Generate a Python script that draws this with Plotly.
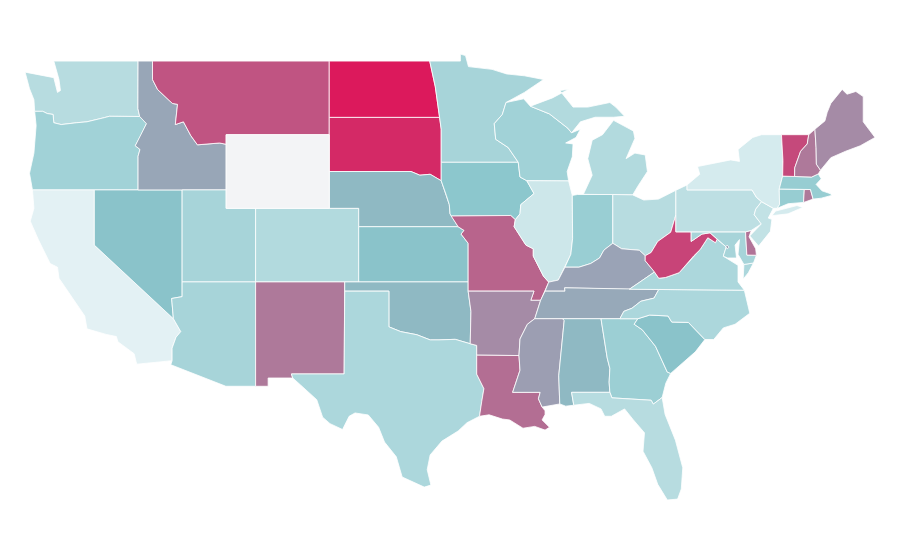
import plotly.graph_objects as go
from plotly.colors import sample_colorscale

states = ["WA","OR","CA","NV","ID","MT","UT","AZ","CO","NM","ND","SD","NE","KS","OK","TX",
          "MN","IA","MO","AR","LA","WI","IL","MI","IN","OH","KY","TN","MS","AL","GA","FL",
          "SC","NC","VA","WV","MD","DE","PA","NJ","NY","CT","RI","MA","VT","NH","ME","DC"]
values = [18,26,2,36,47,78,24,24,20,64,100,94,40,36,40,22,
          24,34,72,57,68,26,10,20,29,18,48,46,50,40,28,18,
          36,22,22,84,24,66,16,14,7,30,64,30,82,64,57,50]
no_data_states = ["WY"]
colorscale = [[0,"#e8f4f6"],[0.35,"#89c6cc"],[1,"#dc195c"]]
no_data_color = "#f3f4f6"

# Simplified state boundaries (lon, lat), one list per ring.
outlines = {
"WA":[[(-124.7,48.4),(-123.2,48.15),(-122.75,48.1),(-122.5,47.3),(-122.3,47.4),(-122.4,48.0),(-122.75,49),(-117.03,49),(-117.04,46.42),(-116.92,45.99),(-118.98,46),(-119.3,45.93),(-120.5,45.7),(-121.2,45.65),(-122.25,45.55),(-122.75,45.65),(-122.8,46.1),(-123.2,46.15),(-123.5,46.27),(-124.05,46.27),(-124.1,46.9),(-124.4,47.5)]],
"OR":[[(-124.05,46.27),(-123.5,46.27),(-123.2,46.15),(-122.8,46.1),(-122.75,45.65),(-122.25,45.55),(-121.2,45.65),(-120.5,45.7),(-119.3,45.93),(-118.98,46),(-116.92,45.99),(-116.46,45.6),(-116.85,44.95),(-117.22,44.4),(-116.9,44.2),(-117.03,43.83),(-117.03,42),(-124.2,42),(-124.4,42.9),(-124.1,44),(-123.95,45.5)]],
"CA":[[(-124.2,42),(-120,42),(-120,39),(-114.63,35),(-114.13,34.3),(-114.45,34),(-114.72,33.4),(-114.72,32.72),(-117.12,32.53),(-117.3,33.1),(-118.4,33.75),(-118.5,34.03),(-119.2,34.15),(-120.5,34.45),(-120.65,35.15),(-121.9,36.6),(-122.4,37.2),(-122.5,37.8),(-123,38),(-123.8,39.3),(-124.35,40.3),(-124.1,41)]],
"NV":[[(-120,42),(-114.04,42),(-114.04,36.2),(-114.75,36.1),(-114.63,35),(-120,39)]],
"ID":[[(-117.03,49),(-116.05,49),(-116.05,48),(-115.7,47.45),(-114.7,46.7),(-114.35,46.65),(-114.5,45.55),(-113.95,45.7),(-113.45,44.95),(-113,44.45),(-111.5,44.55),(-111.05,44.48),(-111.05,42),(-117.03,42),(-117.03,43.83),(-116.9,44.2),(-117.22,44.4),(-116.85,44.95),(-116.46,45.6),(-116.92,45.99),(-117.04,46.42)]],
"MT":[[(-116.05,49),(-104.05,49),(-104.05,45),(-111.05,45),(-111.05,44.48),(-111.5,44.55),(-113,44.45),(-113.45,44.95),(-113.95,45.7),(-114.5,45.55),(-114.35,46.65),(-114.7,46.7),(-115.7,47.45),(-116.05,48)]],
"WY":[[(-111.05,45),(-104.05,45),(-104.05,41),(-111.05,41)]],
"UT":[[(-114.04,42),(-111.05,42),(-111.05,41),(-109.05,41),(-109.05,37),(-114.04,37)]],
"CO":[[(-109.05,41),(-102.05,41),(-102.05,37),(-109.05,37)]],
"AZ":[[(-114.04,37),(-109.05,37),(-109.05,31.33),(-111.07,31.33),(-114.81,32.5),(-114.72,32.72),(-114.72,33.4),(-114.45,34),(-114.13,34.3),(-114.63,35),(-114.75,36.1),(-114.04,36.2)]],
"NM":[[(-109.05,37),(-103,37),(-103.04,32),(-106.62,32),(-106.53,31.78),(-108.2,31.78),(-108.2,31.33),(-109.05,31.33)]],
"TX":[[(-106.62,32),(-103.04,32),(-103,36.5),(-100,36.5),(-100,34.56),(-99.2,34.3),(-98.1,34.13),(-97.2,33.85),(-96.6,33.85),(-95.5,33.88),(-94.48,33.64),(-94.04,33.55),(-94.04,33.02),(-94.04,31.99),(-93.55,31.2),(-93.7,30.5),(-93.85,29.7),(-94.7,29.35),(-95.3,28.9),(-96.4,28.35),(-97.2,27.6),(-97.4,26.8),(-97.15,25.96),(-97.6,25.85),(-99.1,26.4),(-99.5,27.5),(-100.3,28.3),(-100.7,29.1),(-101.4,29.77),(-102.3,29.88),(-102.7,29.7),(-103.15,28.98),(-104,29.3),(-104.5,29.65),(-104.9,30.6),(-106,31.4),(-106.53,31.78)]],
"OK":[[(-103,37),(-94.62,37),(-94.62,36.5),(-94.43,35.4),(-94.48,33.64),(-95.5,33.88),(-96.6,33.85),(-97.2,33.85),(-98.1,34.13),(-99.2,34.3),(-100,34.56),(-100,36.5),(-103,36.5)]],
"KS":[[(-102.05,40),(-95.3,40),(-94.9,39.8),(-95.1,39.6),(-94.62,39.1),(-94.62,37),(-102.05,37)]],
"NE":[[(-104.05,43),(-98.5,43),(-97.9,42.8),(-97.2,42.85),(-96.45,42.5),(-96.1,41.7),(-95.9,41.2),(-95.85,40.7),(-95.3,40),(-102.05,40),(-102.05,41),(-104.05,41)]],
"SD":[[(-104.05,45.94),(-96.56,45.94),(-96.45,45.3),(-96.45,43.5),(-96.45,42.5),(-97.2,42.85),(-97.9,42.8),(-98.5,43),(-104.05,43)]],
"ND":[[(-104.05,49),(-97.23,49),(-96.85,47.6),(-96.56,45.94),(-104.05,45.94)]],
"MN":[[(-97.23,49),(-95.15,49),(-95.15,49.38),(-94.8,49.3),(-94.6,48.7),(-93,48.55),(-92,48.3),(-90.8,48.2),(-89.5,48),(-90.8,47.3),(-92.05,46.75),(-92.3,46.1),(-92.85,45.6),(-92.75,44.75),(-91.9,44.3),(-91.22,43.5),(-96.45,43.5),(-96.45,45.3),(-96.56,45.94),(-96.85,47.6)]],
"IA":[[(-96.45,43.5),(-91.22,43.5),(-91.1,42.7),(-90.64,42.5),(-90.15,41.8),(-91.05,41.2),(-91.1,40.7),(-91.42,40.38),(-91.73,40.61),(-95.77,40.58),(-95.85,40.7),(-95.9,41.2),(-96.1,41.7),(-96.45,42.5)]],
"MO":[[(-95.77,40.58),(-91.73,40.61),(-91.42,40.38),(-91.5,40),(-90.7,39),(-90.2,38.8),(-90.2,38.4),(-89.5,37.3),(-89.15,36.99),(-89.4,36.5),(-89.7,36),(-90.37,36),(-90.15,36.5),(-94.62,36.5),(-94.62,37),(-94.62,39.1),(-95.1,39.6),(-94.9,39.8),(-95.3,40)]],
"AR":[[(-94.62,36.5),(-90.15,36.5),(-90.37,36),(-89.7,36),(-90.1,35),(-90.6,34.7),(-91.1,33.9),(-91.17,33),(-94.04,33.02),(-94.04,33.55),(-94.48,33.64),(-94.43,35.4)]],
"LA":[[(-94.04,33.02),(-91.17,33),(-91.1,32.2),(-91.6,31),(-89.73,31),(-89.85,30.65),(-89.6,30.2),(-89.4,30),(-89.4,29.8),(-89.6,29.5),(-89.1,29.1),(-89.4,28.95),(-90.1,29.15),(-90.9,29.05),(-91.8,29.5),(-92.3,29.55),(-93.2,29.78),(-93.85,29.7),(-93.7,30.5),(-93.55,31.2),(-94.04,31.99)]],
"MS":[[(-90.1,35),(-88.2,35),(-88.1,34.9),(-88.47,31.9),(-88.4,30.37),(-89.6,30.2),(-89.85,30.65),(-89.73,31),(-91.6,31),(-91.1,32.2),(-91.17,33),(-91.1,33.9),(-90.6,34.7)]],
"AL":[[(-88.2,35),(-85.6,35),(-85.18,32.87),(-85,32.3),(-85.05,31.55),(-85,31),(-87.6,31),(-87.45,30.3),(-88,30.25),(-88.4,30.37),(-88.47,31.9),(-88.1,34.9)]],
"GA":[[(-85.6,35),(-83.1,35),(-83.35,34.7),(-82.8,34.4),(-81.9,33.5),(-81.4,32.6),(-81.1,32.1),(-80.87,32.03),(-81.2,31.5),(-81.45,30.72),(-82.05,30.36),(-82.2,30.57),(-84.86,30.7),(-85,31),(-85.05,31.55),(-85,32.3),(-85.18,32.87)]],
"FL":[[(-87.6,31),(-85,31),(-84.86,30.7),(-82.2,30.57),(-82.05,30.36),(-81.45,30.72),(-81.25,29.8),(-80.55,28.4),(-80.05,26.9),(-80.15,25.75),(-80.4,25.2),(-81.1,25.15),(-81.75,26),(-82.15,26.9),(-82.75,27.8),(-82.65,28.8),(-83.4,29.5),(-84,30.1),(-84.9,29.7),(-85.35,29.7),(-85.6,30.1),(-86.4,30.4),(-87.45,30.3)]],
"SC":[[(-83.1,35),(-82.3,35.2),(-81.05,35.15),(-80.8,34.82),(-79.67,34.8),(-78.55,33.87),(-79.2,33.2),(-79.9,32.7),(-80.87,32.03),(-81.1,32.1),(-81.4,32.6),(-81.9,33.5),(-82.8,34.4),(-83.35,34.7)]],
"NC":[[(-84.32,35),(-84.05,35.4),(-83.5,35.57),(-82.9,35.95),(-82,36.12),(-81.68,36.59),(-75.87,36.55),(-75.5,35.3),(-76.5,34.7),(-77.3,34.5),(-77.95,33.87),(-78.55,33.87),(-79.67,34.8),(-80.8,34.82),(-81.05,35.15),(-82.3,35.2),(-83.1,35)]],
"TN":[[(-90.1,35),(-89.7,36),(-89.4,36.5),(-88.05,36.5),(-88.07,36.68),(-83.68,36.6),(-81.68,36.59),(-82,36.12),(-82.9,35.95),(-83.5,35.57),(-84.05,35.4),(-84.32,35),(-85.6,35),(-88.2,35)]],
"KY":[[(-89.4,36.5),(-89.15,36.99),(-88.5,37.1),(-88.05,37.8),(-87.1,37.8),(-86.3,38),(-85.7,38.3),(-85.4,38.73),(-84.8,39.1),(-84.2,38.8),(-83,38.72),(-82.6,38.42),(-82.6,38.15),(-81.97,37.54),(-83.68,36.6),(-88.07,36.68),(-88.05,36.5)]],
"WV":[[(-82.6,38.42),(-82.2,38.6),(-81.75,39.2),(-80.87,39.7),(-80.52,40.64),(-80.52,39.72),(-79.48,39.72),(-79.48,39.2),(-78.75,39.6),(-78.2,39.67),(-77.72,39.32),(-77.83,39.13),(-78.35,39.4),(-78.87,38.76),(-79.3,38.42),(-80.3,37.5),(-81.23,37.24),(-81.68,37.2),(-81.97,37.54),(-82.6,38.15)]],
"VA":[[(-83.68,36.6),(-81.97,37.54),(-81.68,37.2),(-81.23,37.24),(-80.3,37.5),(-79.3,38.42),(-78.87,38.76),(-78.35,39.4),(-77.83,39.13),(-77.72,39.32),(-77.1,38.9),(-77.3,38.4),(-76.3,37.9),(-76.3,37),(-75.87,36.55),(-81.68,36.59)],[(-75.25,38.03),(-75.9,37.95),(-75.95,37.15),(-75.6,37.5)]],
"MD":[[(-79.48,39.72),(-75.79,39.72),(-75.7,38.46),(-75.05,38.45),(-75.25,38.03),(-75.9,37.95),(-76.3,38.5),(-76.2,39.3),(-76.5,39),(-76.4,38.3),(-77,38.3),(-77.3,38.4),(-77.1,38.9),(-77.72,39.32),(-78.2,39.67),(-78.75,39.6),(-79.48,39.2)]],
"DE":[[(-75.79,39.72),(-75.4,39.8),(-75.55,39.45),(-75.1,38.8),(-75.05,38.45),(-75.7,38.46)]],
"DC":[[(-77.12,38.93),(-77.04,39),(-76.91,38.89),(-77.04,38.79)]],
"PA":[[(-80.52,41.98),(-79.76,42.27),(-79.76,42),(-75.35,42),(-75.05,41.6),(-74.7,41.36),(-75.1,40.95),(-75.2,40.65),(-74.72,40.15),(-75.4,39.8),(-75.79,39.72),(-80.52,39.72),(-80.52,40.64)]],
"NJ":[[(-74.7,41.36),(-73.9,41),(-74.25,40.47),(-74,40.4),(-74.1,39.75),(-74.9,38.95),(-75.5,39.5),(-74.72,40.15),(-75.2,40.65),(-75.1,40.95)]],
"NY":[[(-79.76,42.27),(-78.9,42.85),(-79.05,43.27),(-76.8,43.63),(-76.2,43.55),(-76.3,44.2),(-75.3,44.85),(-74.7,45),(-73.35,45),(-73.25,43.6),(-73.27,42.75),(-73.5,42.05),(-73.48,41.2),(-73.65,41),(-73.9,41),(-74.7,41.36),(-75.05,41.6),(-75.35,42),(-79.76,42)],[(-74,40.6),(-73.75,40.85),(-72.3,41.15),(-71.9,41.05),(-72.9,40.7)]],
"CT":[[(-73.5,42.05),(-71.8,42.02),(-71.85,41.32),(-72.9,41.25),(-73.65,41),(-73.48,41.2)]],
"RI":[[(-71.8,42.02),(-71.38,42.02),(-71.2,41.5),(-71.85,41.32)]],
"MA":[[(-73.27,42.75),(-71.3,42.7),(-70.85,42.87),(-70.65,42.6),(-71,42.3),(-70.6,41.95),(-70.05,41.8),(-70.2,42.07),(-69.95,41.7),(-70.65,41.55),(-71.2,41.5),(-71.38,42.02),(-71.8,42.02),(-73.5,42.05)]],
"VT":[[(-73.35,45),(-71.5,45),(-71.6,44.5),(-72.05,44.1),(-72.45,43.2),(-72.46,42.73),(-73.27,42.75),(-73.25,43.6)]],
"NH":[[(-71.5,45),(-71.08,45.3),(-71,44.3),(-70.98,43.4),(-70.7,43.07),(-70.85,42.87),(-71.3,42.7),(-72.46,42.73),(-72.45,43.2),(-72.05,44.1),(-71.6,44.5)]],
"ME":[[(-71.08,45.3),(-70.4,45.75),(-70.25,46.2),(-70,46.7),(-69.23,47.46),(-68.9,47.2),(-68.3,47.35),(-67.8,47.07),(-67.8,45.7),(-67.45,45.3),(-67,44.85),(-68,44.4),(-69,44.1),(-70,43.75),(-70.7,43.07),(-70.98,43.4),(-71,44.3)]],
"WI":[[(-92.05,46.75),(-90.85,46.95),(-90.4,46.55),(-89.1,46.13),(-87.85,45.35),(-87.6,45.1),(-87,45.3),(-87.3,44.85),(-88,44.55),(-87.5,44.5),(-87.55,43.8),(-87.9,43),(-87.8,42.49),(-90.64,42.5),(-91.1,42.7),(-91.22,43.5),(-91.9,44.3),(-92.75,44.75),(-92.85,45.6),(-92.3,46.1)]],
"IL":[[(-90.64,42.5),(-87.8,42.49),(-87.55,41.7),(-87.53,39.35),(-87.65,38.5),(-88.05,37.8),(-88.5,37.1),(-89.15,36.99),(-89.5,37.3),(-90.2,38.4),(-90.2,38.8),(-90.7,39),(-91.5,40),(-91.42,40.38),(-91.1,40.7),(-91.05,41.2),(-90.15,41.8)]],
"IN":[[(-87.55,41.7),(-87.2,41.75),(-84.8,41.75),(-84.8,39.1),(-85.4,38.73),(-85.7,38.3),(-86.3,38),(-87.1,37.8),(-88.05,37.8),(-87.65,38.5),(-87.53,39.35)]],
"OH":[[(-84.8,41.75),(-83.45,41.73),(-82.7,41.45),(-81.7,41.5),(-80.52,41.98),(-80.52,40.64),(-80.87,39.7),(-81.75,39.2),(-82.2,38.6),(-82.6,38.42),(-83,38.72),(-84.2,38.8),(-84.8,39.1)]],
"MI":[[(-86.8,41.76),(-84.8,41.75),(-83.45,41.73),(-83.1,42.2),(-82.45,43),(-82.6,43.9),(-83.3,44),(-83.9,43.7),(-83.3,44.8),(-83.4,45.2),(-84.75,45.78),(-85.5,45),(-86.2,44.7),(-86.5,43.7),(-86.2,42.8)],[(-90.4,46.55),(-89.1,46.13),(-87.85,45.35),(-87.6,45.1),(-87,45.7),(-86,45.95),(-84.75,45.95),(-84,46),(-84.6,46.5),(-85,46.75),(-86.5,46.5),(-87.5,46.5),(-88.4,47.4),(-87.8,47.47),(-88.9,47),(-90.4,46.55)]],
}

def ring_xy(rings):
    xs, ys = [], []
    for ring in rings:
        xs += [p[0] for p in ring] + [ring[0][0], None]
        ys += [p[1] for p in ring] + [ring[0][1], None]
    return xs, ys

fig = go.Figure()
def add_state(code, color, label):
    x, y = ring_xy(outlines[code])
    fig.add_trace(go.Scatter(x=x, y=y, mode="lines", fill="toself", fillcolor=color,
        line=dict(color="white", width=0.8), name=code, text=label, hoverinfo="name+text",
        showlegend=False))

colors = sample_colorscale(colorscale, [v/100 for v in values])
for code, v, c in zip(states, values, colors):
    add_state(code, c, str(v))
for code in no_data_states:
    add_state(code, no_data_color, "no data")

fig.update_xaxes(range=[-125.86, -64.76], visible=False, fixedrange=True)
fig.update_yaxes(range=[21.455, 51.885], visible=False, fixedrange=True)
fig.update_layout(width=900, height=560, margin=dict(l=0, r=0, t=0, b=0),
                  paper_bgcolor="white", plot_bgcolor="white")
fig.write_html("out.html")
